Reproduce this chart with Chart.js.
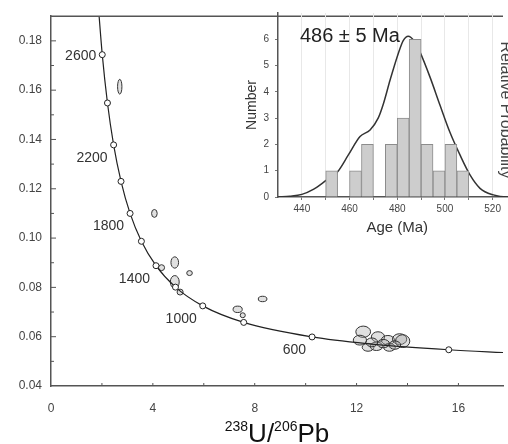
<!DOCTYPE html>
<html>
<head>
<meta charset="utf-8">
<script src="https://cdn.jsdelivr.net/npm/chart.js@4.4.1/dist/chart.umd.min.js"></script>
<style>
    html, body { margin: 0; padding: 0; background: #fff; }
    #wrap { position: relative; width: 508px; height: 444px; overflow: hidden; }
    #main { position: absolute; left: 0; top: 0; }
    #inset { position: absolute; left: 240px; top: 0; }
</style>
</head>
<body>
<div id="wrap">
    <canvas id="main" width="508" height="444"></canvas>
    <canvas id="inset" width="290" height="245"></canvas>
</div>
<script>
const FONT = "'Liberation Sans', Arial, sans-serif";

// Concordia markers (Ma) and their positions
const concAges = [2600, 2400, 2200, 2000, 1800, 1600, 1400, 1200, 1000, 800, 600, 400];
const concX = [2.013, 2.217, 2.459, 2.750, 3.105, 3.550, 4.123, 4.888, 5.959, 7.568, 10.252, 15.620];
const concY = [0.1744, 0.1548, 0.1378, 0.1230, 0.1100, 0.0987, 0.0888, 0.0801, 0.0725, 0.0658, 0.0599, 0.0547];
const labelAges = [2600, 2200, 1800, 1400, 1000, 600];

// Concordia line
const curveX = [1.838, 2.013, 2.217, 2.459, 2.750, 3.105, 3.550, 4.123, 4.888, 5.959, 7.568, 10.252, 12.40, 15.620, 17.92];
const curveY = [0.1968, 0.1744, 0.1548, 0.1378, 0.1230, 0.1100, 0.0987, 0.0888, 0.0801, 0.0725, 0.0658, 0.0599, 0.0572, 0.0547, 0.0535];

// Zircon analyses: ratio, and 2s half-widths
const grainX = [2.70, 4.06, 4.86, 4.86, 5.44, 4.34, 5.07, 7.33, 7.53, 8.31,
    12.26, 12.13, 12.45, 12.84, 12.78, 13.23, 13.29, 13.69, 13.81, 12.60, 13.05, 13.50];
const grainY = [0.1614, 0.1100, 0.0901, 0.0822, 0.0858, 0.0880, 0.0781, 0.0711, 0.0687, 0.0753,
    0.0620, 0.0586, 0.0557, 0.0599, 0.0561, 0.0586, 0.0557, 0.0590, 0.0582, 0.0577, 0.0572, 0.0566];
const grainErrX = [0.085, 0.11, 0.15, 0.175, 0.11, 0.12, 0.12, 0.18, 0.10, 0.17,
    0.29, 0.26, 0.23, 0.26, 0.25, 0.26, 0.23, 0.28, 0.28, 0.23, 0.24, 0.23];
const grainErrY = [0.0030, 0.0016, 0.0023, 0.0026, 0.0010, 0.0012, 0.0012, 0.0013, 0.0010, 0.0011,
    0.0023, 0.0020, 0.0016, 0.0021, 0.0017, 0.0019, 0.0016, 0.0022, 0.0026, 0.0018, 0.0017, 0.0017];

const xTicks = [0, 4, 8, 12, 16];
const xMinorTicks = [2, 6, 10, 14];
const yTicks = [0.04, 0.06, 0.08, 0.10, 0.12, 0.14, 0.16, 0.18];
const yMinorTicks = [0.05, 0.07, 0.09, 0.11, 0.13, 0.15, 0.17];

// Inset: age histogram (5 Ma bins) and probability curve
const binCentres = [452.5, 462.5, 467.5, 477.5, 482.5, 487.5, 492.5, 497.5, 502.5, 507.5];
const binCounts = [1, 1, 2, 2, 3, 6, 2, 1, 2, 1];
const probAge = [430, 435, 440, 445, 450, 455, 459.5, 464.4, 468.6, 472, 474.2, 477, 480.4, 482.5, 484.6, 487, 489.5, 493.7, 497.9, 502, 506.3, 510.5, 514.7, 520.3, 526, 530];
const probValue = [0, 0.03, 0.1, 0.3, 0.62, 0.96, 1.6, 2.3, 2.55, 3.0, 3.55, 4.45, 5.45, 5.95, 6.12, 5.95, 5.52, 4.57, 3.5, 2.48, 1.6, 0.84, 0.33, 0.08, 0, 0];
const insetXTicks = [440, 450, 460, 470, 480, 490, 500, 510, 520];
const insetYTicks = [0, 1, 2, 3, 4, 5, 6];

// ---------- main concordia plot ----------
const ellipses = {
    id: "ellipses",
    beforeDatasetsDraw(chart) {
        const { ctx, chartArea, scales: { x, y } } = chart;
        ctx.save();
        ctx.beginPath();
        ctx.rect(chartArea.left, chartArea.top, chartArea.width, chartArea.height);
        ctx.clip();
        grainX.forEach((gx, i) => {
            const cx = x.getPixelForValue(gx);
            const cy = y.getPixelForValue(grainY[i]);
            const rx = Math.abs(x.getPixelForValue(gx + grainErrX[i]) - cx);
            const ry = Math.abs(y.getPixelForValue(grainY[i] + grainErrY[i]) - cy);
            ctx.beginPath();
            ctx.ellipse(cx, cy, rx, ry, 0, 0, Math.PI * 2);
            ctx.fillStyle = "rgba(165, 165, 165, 0.35)";
            ctx.fill();
            ctx.strokeStyle = "#333";
            ctx.lineWidth = 1;
            ctx.stroke();
        });
        ctx.restore();
    },
};

const decorations = {
    id: "decorations",
    afterDraw(chart) {
        const { ctx, chartArea, scales: { x, y } } = chart;
        ctx.save();
        ctx.strokeStyle = "#555";
        ctx.lineWidth = 1;
        // inward ticks
        const tick = (vals, len, horizontal) => {
            vals.forEach((v) => {
                ctx.beginPath();
                if (horizontal) {
                    const px = x.getPixelForValue(v);
                    ctx.moveTo(px, chartArea.bottom);
                    ctx.lineTo(px, chartArea.bottom - len);
                } else {
                    const py = y.getPixelForValue(v);
                    ctx.moveTo(chartArea.left, py);
                    ctx.lineTo(chartArea.left + len, py);
                }
                ctx.stroke();
            });
        };
        tick(xTicks.slice(1), 3, true);
        tick(xMinorTicks, 3, true);
        tick(yTicks.slice(1), 5, false);
        tick(yMinorTicks, 3, false);

        // top frame line
        ctx.lineWidth = 1.5;
        ctx.beginPath();
        ctx.moveTo(chartArea.left, chartArea.top);
        ctx.lineTo(chartArea.right, chartArea.top);
        ctx.stroke();

        // age labels on the concordia
        ctx.fillStyle = "#333";
        ctx.font = "14px " + FONT;
        ctx.textAlign = "right";
        ctx.textBaseline = "middle";
        labelAges.forEach((age, i) => {
            const k = concAges.indexOf(age);
            const px = x.getPixelForValue(concX[k]);
            const py = y.getPixelForValue(concY[k]);
            ctx.fillText(String(age), px - 6, py + (i === 0 ? 1 : 13));
        });

        // axis title with superscripts
        const parts = [["238", 14, -11], ["U/", 26, 0], ["206", 14, -11], ["Pb", 26, 0]];
        let total = 0;
        parts.forEach((p) => {
            ctx.font = p[1] + "px " + FONT;
            total += ctx.measureText(p[0]).width;
        });
        let cursor = (chartArea.left + chartArea.right) / 2 - total / 2;
        ctx.textAlign = "left";
        ctx.textBaseline = "alphabetic";
        ctx.fillStyle = "#111";
        parts.forEach((p) => {
            ctx.font = p[1] + "px " + FONT;
            ctx.fillText(p[0], cursor, 442 + p[2]);
            cursor += ctx.measureText(p[0]).width;
        });
        ctx.restore();
    },
};

new Chart(document.getElementById("main").getContext("2d"), {
    type: "scatter",
    data: {
        datasets: [
            {
                data: concX.map((v, i) => ({ x: v, y: concY[i] })),
                pointRadius: 3,
                pointBackgroundColor: "#fff",
                pointBorderColor: "#222",
                pointBorderWidth: 1,
                showLine: false,
            },
            {
                data: curveX.map((v, i) => ({ x: v, y: curveY[i] })),
                showLine: true,
                borderColor: "#222",
                borderWidth: 1.2,
                pointRadius: 0,
                cubicInterpolationMode: "monotone",
            },
        ],
    },
    options: {
        responsive: false,
        animation: false,
        devicePixelRatio: 1,
        layout: { padding: { top: 13, right: 0, left: 0, bottom: 0 } },
        plugins: { legend: { display: false }, tooltip: { enabled: false } },
        scales: {
            x: {
                type: "linear",
                min: 0,
                max: 17.75,
                afterBuildTicks: (scale) => { scale.ticks = xTicks.map((v) => ({ value: v })); },
                afterFit: (scale) => { scale.height = 58; },
                ticks: { font: { size: 12, family: FONT }, color: "#444", padding: 15, maxRotation: 0 },
                grid: { display: true, drawOnChartArea: false, drawTicks: false },
                border: { display: true, color: "#555", width: 1.5 },
            },
            y: {
                type: "linear",
                min: 0.04,
                max: 0.19,
                afterBuildTicks: (scale) => { scale.ticks = yTicks.map((v) => ({ value: v })); },
                afterFit: (scale) => { scale.width = 51; },
                ticks: {
                    font: { size: 12, family: FONT },
                    color: "#444",
                    padding: 9,
                    callback: (v) => Number(v).toFixed(2),
                },
                grid: { display: true, drawOnChartArea: false, drawTicks: false },
                border: { display: true, color: "#555", width: 1.5 },
            },
        },
    },
    plugins: [ellipses, decorations],
});

// ---------- inset histogram ----------
const insetText = {
    id: "insetText",
    afterDraw(chart) {
        const { ctx, scales: { x, y } } = chart;
        ctx.save();
        ctx.fillStyle = "#222";
        ctx.font = "20px " + FONT;
        ctx.textAlign = "left";
        ctx.textBaseline = "alphabetic";
        ctx.fillText("486 ± 5 Ma", x.getPixelForValue(439.2), y.getPixelForValue(5.9));

        ctx.fillStyle = "#444";
        ctx.font = "16px " + FONT;
        ctx.translate(261, 110);
        ctx.rotate(Math.PI / 2);
        ctx.textAlign = "center";
        ctx.fillText("Relative Probability", 0, 0);
        ctx.restore();
    },
};

new Chart(document.getElementById("inset").getContext("2d"), {
    type: "bar",
    data: {
        datasets: [
            {
                type: "bar",
                data: binCentres.map((v, i) => ({ x: v, y: binCounts[i] })),
                backgroundColor: "#cdcdcd",
                borderColor: "#8c8c8c",
                borderWidth: 1,
                barPercentage: 1,
                categoryPercentage: 1,
                order: 1,
            },
            {
                type: "line",
                data: probAge.map((v, i) => ({ x: v, y: probValue[i] })),
                borderColor: "#333",
                borderWidth: 1.5,
                pointRadius: 0,
                cubicInterpolationMode: "monotone",
                order: 2,
            },
        ],
    },
    options: {
        responsive: false,
        animation: false,
        devicePixelRatio: 1,
        layout: { padding: { top: 13, right: 13.5, left: 0, bottom: 0 } },
        plugins: { legend: { display: false }, tooltip: { enabled: false } },
        scales: {
            x: {
                type: "linear",
                min: 430,
                max: 530,
                offset: false,
                afterBuildTicks: (scale) => { scale.ticks = insetXTicks.map((v) => ({ value: v })); },
                afterFit: (scale) => { scale.height = 48; },
                ticks: {
                    font: { size: 10, family: FONT },
                    color: "#444",
                    padding: 3,
                    maxRotation: 0,
                    autoSkip: false,
                    callback: (v) => (v % 20 === 0 ? String(v) : ""),
                },
                grid: { display: true, offset: false, color: "#e8e8e8", tickColor: "#777", tickLength: 3 },
                border: { display: true, color: "#555", width: 1.5 },
                title: {
                    display: true,
                    text: "Age (Ma)",
                    font: { size: 15, family: FONT },
                    color: "#333",
                    padding: { top: 0, bottom: 8 },
                },
            },
            y: {
                type: "linear",
                min: 0,
                max: 7,
                afterBuildTicks: (scale) => { scale.ticks = insetYTicks.map((v) => ({ value: v })); },
                afterFit: (scale) => { scale.width = 38; },
                ticks: {
                    font: { size: 10, family: FONT },
                    color: "#444",
                    padding: 6,
                },
                grid: { display: true, drawOnChartArea: false, tickColor: "#777", tickLength: 3 },
                border: { display: true, color: "#555", width: 1.5 },
                title: {
                    display: true,
                    text: "Number",
                    font: { size: 14, family: FONT },
                    color: "#333",
                    padding: { top: 4, bottom: 0 },
                },
            },
        },
    },
    plugins: [insetText],
});
</script>
</body>
</html>
